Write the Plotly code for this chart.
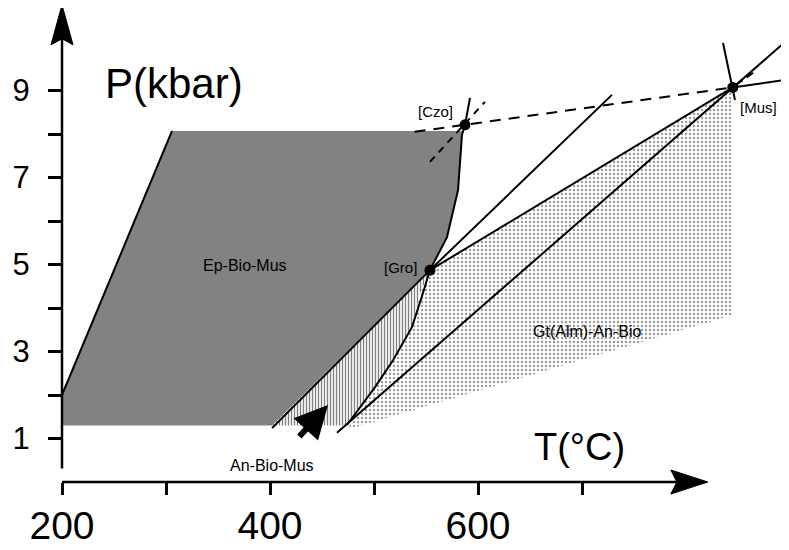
import plotly.graph_objects as go

# invariant points (T in deg C, P in kbar)
point_names = ["[Czo]", "[Gro]", "[Mus]"]
point_T = [587.5, 553.8, 845.0]
point_P = [8.21, 4.87, 9.07]

# Ep-Bio-Mus field (dark stipple)
ep_T = [200, 200, 305.8, 585, 580.8, 570.2, 553.8, 402, 200]
ep_P = [1.3, 2.0, 8.07, 8.07, 6.71, 5.63, 4.87, 1.3, 1.3]

# An-Bio-Mus field (hatched)
an_T = [553.8, 402, 474, 501, 518.3, 536.5, 544.2, 553.8]
an_P = [4.87, 1.3, 1.3, 2.18, 2.80, 3.56, 4.34, 4.87]

# Gt(Alm)-An-Bio field (light stipple)
gt_T = [553.8, 845, 845, 474, 501, 518.3, 536.5, 544.2, 553.8]
gt_P = [4.87, 9.07, 3.84, 1.2, 2.18, 2.80, 3.56, 4.34, 4.87]

# reaction curves
curve_T = [592.3, 587.5, 584.6, 580.8, 570.2, 553.8, 546.5, 536.5, 518.3, 501, 474]
curve_P = [8.83, 8.21, 7.98, 6.71, 5.63, 4.87, 4.30, 3.56, 2.80, 2.18, 1.31]
left_T = [200, 305.8]
left_P = [2.0, 8.07]
gro_up_T = [553.8, 728.8]
gro_up_P = [4.87, 8.90]
gro_mus_T = [553.8, 845]
gro_mus_P = [4.87, 9.07]
gro_down_T = [553.8, 402]
gro_down_P = [4.87, 1.24]
low_T = [464.4, 895]
low_P = [1.13, 10.11]
czo_mus_T = [539, 845]
czo_mus_P = [8.05, 9.07]
mus_right_T = [845, 898]
mus_right_P = [9.07, 9.25]
czo_dash_T = [553.8, 606.7]
czo_dash_P = [7.36, 8.74]
mus_steep_T = [835.6, 847.1]
mus_steep_P = [10.09, 8.78]
mus_dash_T = [848, 868.3]
mus_dash_P = [9.13, 9.47]

# field labels
field_names = ["Ep-Bio-Mus", "Gt(Alm)-An-Bio", "An-Bio-Mus"]
field_T = [376, 705, 402]
field_P = [4.97, 3.45, 0.39]

# axes
x_ticks = [200, 300, 400, 500, 600, 700]
x_labels = ["200", "", "400", "", "600", ""]
y_ticks = [1, 2, 3, 4, 5, 6, 7, 8, 9]
y_labels = ["1", "", "3", "", "5", "", "7", "", "9"]
x_axis_end = 821
y_axis_end = 10.97
y_axis_start = 0.31

# An-Bio-Mus pointer arrow
pointer_T = [426.9, 455.8]
pointer_P = [1.01, 1.77]

FONT = "Liberation Sans"
# page body has an 8px margin, so the visible figure is 8px smaller
PAD = 8
W, H = 789 - PAD, 550 - PAD
X0_PX, Y0_PX = 62, 482      # screen pixel of T=200 / P=0
PX_PER_C, PX_PER_KBAR = 1.04, 43.5


def add_field(fig, T, P, **kwargs):
    fig.add_trace(go.Scatter(x=T, y=P, mode="lines", fill="toself",
                             line=dict(width=0), hoverinfo="skip",
                             showlegend=False, **kwargs))


def add_line(fig, T, P, width=2, dash="solid"):
    fig.add_trace(go.Scatter(x=T, y=P, mode="lines",
                             line=dict(color="black", width=width, dash=dash),
                             hoverinfo="skip", showlegend=False))


fig = go.Figure()

add_field(fig, gt_T, gt_P, fillcolor="white",
          fillpattern=dict(shape=".", fgcolor="#333", bgcolor="white",
                           size=4, solidity=0.28))
add_field(fig, ep_T, ep_P, fillcolor="#828282")
add_field(fig, an_T, an_P, fillcolor="white",
          fillpattern=dict(shape="|", fgcolor="black", bgcolor="white",
                           size=3, solidity=0.45))

add_line(fig, left_T, left_P)
add_line(fig, curve_T, curve_P)
add_line(fig, gro_up_T, gro_up_P)
add_line(fig, gro_mus_T, gro_mus_P)
add_line(fig, gro_down_T, gro_down_P)
add_line(fig, low_T, low_P)
add_line(fig, mus_right_T, mus_right_P)
add_line(fig, mus_steep_T, mus_steep_P)
add_line(fig, czo_mus_T, czo_mus_P, dash="11px,8px")
add_line(fig, czo_dash_T, czo_dash_P, dash="7px,6px")
add_line(fig, mus_dash_T, mus_dash_P, dash="8px,5px")

fig.add_trace(go.Scatter(x=point_T, y=point_P, mode="markers",
                         marker=dict(color="black", size=11),
                         hoverinfo="skip", showlegend=False))

# point labels
label_T = [558.7, 525, 870]
label_P = [8.51, 4.92, 8.62]
for name, t, p in zip(point_names, label_T, label_P):
    fig.add_annotation(x=t, y=p, text=name, showarrow=False,
                       font=dict(family=FONT, size=15, color="black"))

for name, t, p in zip(field_names, field_T, field_P):
    fig.add_annotation(x=t, y=p, text=name, showarrow=False,
                       font=dict(family=FONT, size=16, color="black"))

# pointer arrow
fig.add_annotation(x=pointer_T[1], y=pointer_P[1], ax=pointer_T[0], ay=pointer_P[0],
                   xref="x", yref="y", axref="x", ayref="y", text="",
                   showarrow=True, arrowhead=2, arrowsize=1.1, arrowwidth=6,
                   arrowcolor="black")

# axis lines with arrow heads
fig.add_shape(type="line", x0=200, y0=y_axis_start, x1=200, y1=y_axis_end - 0.6,
              line=dict(color="black", width=2.5))
fig.add_shape(type="line", x0=200, y0=0, x1=x_axis_end - 20, y1=0,
              line=dict(color="black", width=2.5))
fig.add_shape(type="path", xsizemode="pixel", ysizemode="pixel",
              xanchor=200, yanchor=y_axis_end,
              path="M0,0 L-11,-40 L0,-34 L11,-40 Z",
              fillcolor="black", line=dict(color="black", width=1))
fig.add_shape(type="path", xsizemode="pixel", ysizemode="pixel",
              xanchor=x_axis_end, yanchor=0,
              path="M0,0 L-37,12 L-31,0 L-37,-12 Z",
              fillcolor="black", line=dict(color="black", width=1))

# axis titles
fig.add_annotation(x=307.7, y=9.17, text="P(kbar)", showarrow=False,
                   font=dict(family=FONT, size=42, color="black"))
fig.add_annotation(x=698, y=0.80, text="T(°C)", showarrow=False,
                   font=dict(family=FONT, size=38, color="black"))

x0 = 200 - (X0_PX - PAD) / PX_PER_C
x1 = 200 + (789 - X0_PX) / PX_PER_C
y0 = -(550 - Y0_PX) / PX_PER_KBAR
y1 = (Y0_PX - PAD) / PX_PER_KBAR

fig.update_layout(
    width=W, height=H,
    margin=dict(l=0, r=0, t=0, b=0, autoexpand=False),
    plot_bgcolor="white", paper_bgcolor="white",
    xaxis=dict(range=[x0, x1], domain=[0, 1], anchor="free",
               position=(550 - Y0_PX) / H,
               tickvals=x_ticks, ticktext=x_labels, ticks="outside",
               ticklen=12, tickwidth=2.5, tickcolor="black", automargin=False,
               showline=False, showgrid=False, zeroline=False,
               ticklabelstandoff=-3,
               tickfont=dict(family=FONT, size=39, color="black")),
    yaxis=dict(range=[y0, y1], domain=[0, 1], anchor="free",
               position=(X0_PX - PAD) / W,
               tickvals=y_ticks, ticktext=y_labels, ticks="outside",
               ticklen=14, tickwidth=2.5, tickcolor="black", automargin=False,
               showline=False, showgrid=False, zeroline=False,
               ticklabelstandoff=12,
               tickfont=dict(family=FONT, size=31, color="black")),
)

fig.write_html("out.html")
